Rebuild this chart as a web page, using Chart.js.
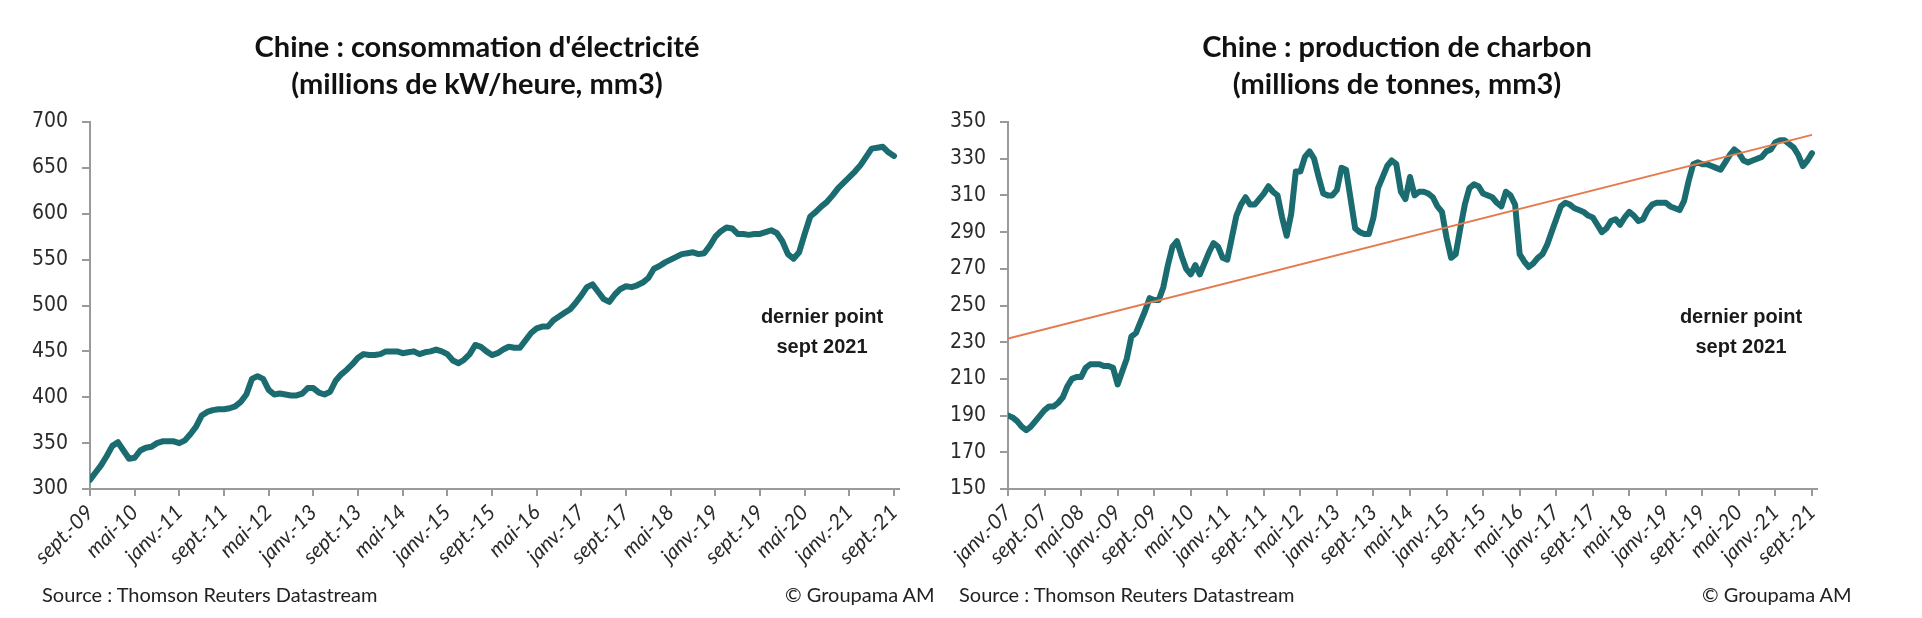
<!DOCTYPE html>
<html><head><meta charset="utf-8">
<script src="https://cdn.jsdelivr.net/npm/chart.js@4.4.1/dist/chart.umd.min.js"></script>
<style>
html,body{margin:0;padding:0;background:#fff;width:1922px;height:618px;overflow:hidden;position:relative;}
.box{position:absolute;top:0;width:960px;height:618px;}
.title{position:absolute;top:27px;font:bold 29px Lato,sans-serif;text-align:center;color:#111;line-height:37px;white-space:nowrap;transform:translateX(-50%);}
.note{position:absolute;top:301px;font:bold 20px 'Liberation Sans',sans-serif;color:#1a1a1a;text-align:center;line-height:30px;transform:translateX(-50%);white-space:nowrap;}
.foot{position:absolute;top:582px;font:20px Lato,sans-serif;color:#222;white-space:nowrap;line-height:24px;}
</style></head>
<body>
<div class="box" style="left:0"><canvas id="c1" width="960" height="618"></canvas></div>
<div class="box" style="left:918px"><canvas id="c2" width="960" height="618"></canvas></div>
<div class="title" style="left:477px">Chine : consommation d'électricité<br>(millions de kW/heure, mm3)</div>
<div class="title" style="left:1397px">Chine : production de charbon<br>(millions de tonnes, mm3)</div>
<div class="note" style="left:822px">dernier point<br>sept 2021</div>
<div class="note" style="left:1741px">dernier point<br>sept 2021</div>
<div class="foot" style="left:42px">Source : Thomson Reuters Datastream</div>
<div class="foot" style="left:785px">© Groupama AM</div>
<div class="foot" style="left:959px">Source : Thomson Reuters Datastream</div>
<div class="foot" style="left:1702px">© Groupama AM</div>
<script>
// Electricity consumption, monthly from sept-09 to sept-21
const elecValues = [
310,318,326,336,347,351,342,333,334,342,345,346,350,352,352,352,350,353,360,368,
380,384,386,387,387,388,390,395,403,420,423,420,408,403,404,403,402,402,404,410,
410,405,403,406,418,425,430,436,443,447,446,446,447,450,450,450,448,449,450,447,
449,450,452,450,447,440,437,441,447,457,455,450,446,448,452,455,454,454,462,470,
475,477,477,484,488,492,496,503,511,520,523,515,507,504,512,518,521,520,522,525,
530,540,543,547,550,553,556,557,558,556,557,565,575,581,585,584,578,578,577,578,
578,580,582,579,570,556,551,558,578,597,602,608,613,620,628,634,640,646,653,662,
671,672,673,667,663];
const elecTickLabels = ['sept.-09','mai-10','janv.-11','sept.-11','mai-12','janv.-13','sept.-13','mai-14','janv.-15','sept.-15','mai-16','janv.-17','sept.-17','mai-18','janv.-19','sept.-19','mai-20','janv.-21','sept.-21'];
const elecYTicks = [300,350,400,450,500,550,600,650,700];

// Coal production, monthly from janv-07 to sept-21
const coalValues = [
190,189,187,184,182,184,187,190,193,195,195,197,200,206,210,211,211,216,218,218,
218,217,217,216,207,214,221,233,235,241,247,254,253,253,260,272,282,285,277,270,
267,272,267,273,279,284,282,276,275,287,299,305,309,305,305,308,311,315,312,310,
298,288,300,323,323,331,334,330,320,311,310,310,313,325,324,308,292,290,289,289,
298,314,320,326,329,327,312,308,320,310,312,312,311,309,304,301,287,276,278,292,
305,314,316,315,311,310,309,306,304,312,310,305,278,274,271,273,276,278,283,290,
297,304,306,305,303,302,301,299,298,294,290,292,296,297,294,298,301,299,296,297,
302,305,306,306,306,304,303,302,307,318,327,328,327,327,326,325,324,328,332,335,
333,329,328,329,330,331,334,335,339,340,340,338,336,332,326,329,333];
const coalTickLabels = ['janv.-07','sept.-07','mai-08','janv.-09','sept.-09','mai-10','janv.-11','sept.-11','mai-12','janv.-13','sept.-13','mai-14','janv.-15','sept.-15','mai-16','janv.-17','sept.-17','mai-18','janv.-19','sept.-19','mai-20','janv.-21','sept.-21'];
const coalYTicks = [150,170,190,210,230,250,270,290,310,330,350];
const coalTrendMonths = [0, 176];
const coalTrendValues = [232, 343];

const MONTHS_PER_TICK = 8;
const TEAL = '#1b6c70';
const AXIS = '#9a9a9a';

function toPoints(vals, months) {
  return vals.map((v, i) => ({x: months ? months[i] : i, y: v}));
}

function makeChart(id, values, tickLabels, yTicks, extraDatasets) {
  const lastMonth = (tickLabels.length - 1) * MONTHS_PER_TICK;
  const datasets = [{
    data: toPoints(values), borderColor: TEAL, borderWidth: 6, pointRadius: 0,
    borderJoinStyle: 'round', borderCapStyle: 'round', tension: 0, order: 1
  }].concat(extraDatasets || []);
  return new Chart(document.getElementById(id), {
    type: 'line',
    data: { datasets },
    options: {
      responsive: false, animation: false, devicePixelRatio: 1,
      layout: { padding: { top: 122, bottom: 49, left: 0, right: 61 } },
      plugins: { legend: { display: false }, tooltip: { enabled: false }, title: { display: false } },
      scales: {
        x: {
          type: 'linear', min: 0, max: lastMonth * 1.0062,
          ticks: {
            stepSize: MONTHS_PER_TICK, includeBounds: false, autoSkip: false,
            maxRotation: 45, minRotation: 45, padding: 4, color: '#2a2a2a',
            font: { family: 'Lato', style: 'italic', size: 21 },
            callback: (v) => { const k = Math.round(v / MONTHS_PER_TICK); return (Math.abs(v - k * MONTHS_PER_TICK) < 1e-6 && tickLabels[k]) ? tickLabels[k] : ''; }
          },
          grid: { drawOnChartArea: false, drawTicks: true, tickLength: 7, color: AXIS, lineWidth: 2 },
          border: { display: true, color: AXIS, width: 2 },
          afterFit: (s) => { s.height = 80; }
        },
        y: {
          min: yTicks[0], max: yTicks[yTicks.length - 1],
          afterBuildTicks: (s) => { s.ticks = yTicks.map(v => ({ value: v })); },
          ticks: { padding: 14, color: '#2a2a2a', font: { family: "'DejaVu Sans Condensed', 'Liberation Sans', sans-serif", size: 21 } },
          grid: { drawOnChartArea: false, drawTicks: true, tickLength: 8, color: AXIS, lineWidth: 2 },
          border: { display: true, color: AXIS, width: 2 },
          afterFit: (s) => { s.width = 90; }
        }
      }
    }
  });
}

makeChart('c1', elecValues, elecTickLabels, elecYTicks);
makeChart('c2', coalValues, coalTickLabels, coalYTicks, [{
  data: toPoints(coalTrendValues, coalTrendMonths), borderColor: '#e57a4e', borderWidth: 2,
  pointRadius: 0, tension: 0, order: 0
}]);
</script>
</body></html>
